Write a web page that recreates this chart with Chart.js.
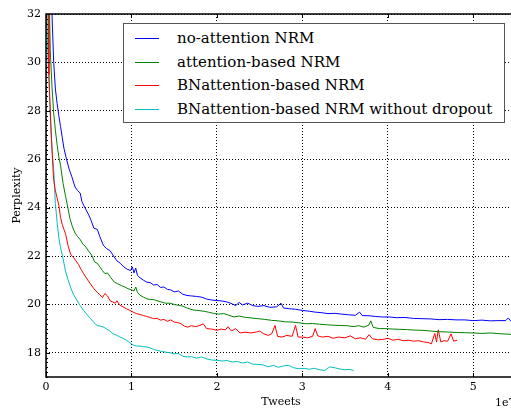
<!DOCTYPE html>
<html>
<head>
<meta charset="utf-8">
<script src="https://cdn.jsdelivr.net/npm/chart.js@4/dist/chart.umd.min.js"></script>
<style>
  html, body { margin: 0; padding: 0; background: #fff; overflow: hidden; width: 511px; height: 408px; }
  #wrap { position: relative; width: 517px; height: 408px; }
  #legend { position: absolute; left: 123px; top: 23px; width: 380px; height: 98px;
            border: 1.5px solid #555; background: #fff; font-family: "DejaVu Serif", serif; color: #000; }
  .row { position: absolute; left: 0; height: 20px; }
  .swatch { position: absolute; left: 11px; width: 24px; height: 0; border-top: 1.2px solid; }
  .lbl { position: absolute; left: 53px; white-space: nowrap; line-height: 20px; }
</style>
</head>
<body>
<div id="wrap">
  <canvas id="c" width="517" height="408"></canvas>
  <div id="legend"></div>
</div>
<script>
// ---------------- data (x in units of 1e7 tweets) ----------------
const seriesLabels = [
  "no-attention NRM",
  "attention-based NRM",
  "BNattention-based NRM",
  "BNattention-based NRM without dropout"
];
const seriesColors = ["#0000ff", "#008000", "#ff0000", "#00bfbf"];

const noAttX = [0.03,0.06,0.07,0.09,0.11,0.13,0.15,0.17,0.19,0.21,0.24,0.27,0.30,0.34,0.37,0.40,0.42,0.44,0.47,0.50,0.53,0.56,0.60,0.63,0.67,0.71,0.75,0.79,0.83,0.87,0.91,0.95,0.99,1.01,1.03,1.05,1.07,1.10,1.14,1.18,1.22,1.26,1.30,1.34,1.38,1.42,1.46,1.50,1.55,1.60,1.65,1.70,1.76,1.82,1.88,1.94,2.00,2.06,2.12,2.18,2.22,2.26,2.30,2.36,2.42,2.48,2.55,2.62,2.70,2.75,2.78,2.85,2.92,3.00,3.08,3.15,3.22,3.30,3.38,3.46,3.54,3.62,3.67,3.70,3.78,3.86,3.94,4.02,4.10,4.20,4.30,4.40,4.50,4.60,4.70,4.80,4.90,5.00,5.10,5.20,5.30,5.38,5.41,5.45,5.50];
const noAttY = [35,32.6,32.0,30.0,28.9,28.3,27.8,27.35,26.9,26.45,26.0,25.6,25.3,24.85,24.7,24.6,24.25,24.1,23.9,23.7,23.45,23.15,23.1,22.8,22.45,22.3,22.22,22.0,21.8,21.7,21.55,21.45,21.4,21.55,21.3,21.5,21.2,21.1,21.0,20.92,20.9,20.8,20.82,20.7,20.72,20.62,20.6,20.52,20.55,20.42,20.37,20.35,20.33,20.3,20.22,20.18,20.16,20.14,20.1,20.02,19.95,20.08,19.98,20.05,19.95,19.92,19.95,19.88,19.9,20.05,19.85,19.82,19.8,19.75,19.72,19.68,19.66,19.62,19.63,19.6,19.57,19.55,19.68,19.54,19.53,19.5,19.48,19.48,19.45,19.46,19.42,19.41,19.4,19.37,19.38,19.36,19.36,19.33,19.35,19.32,19.33,19.33,19.44,19.27,19.25];

const attX = [0.02,0.04,0.05,0.07,0.09,0.11,0.13,0.15,0.17,0.20,0.23,0.25,0.28,0.31,0.34,0.37,0.40,0.43,0.46,0.50,0.54,0.57,0.60,0.63,0.66,0.69,0.72,0.76,0.80,0.84,0.88,0.92,0.96,1.00,1.03,1.05,1.07,1.10,1.14,1.18,1.22,1.26,1.30,1.35,1.40,1.45,1.50,1.55,1.60,1.65,1.72,1.78,1.84,1.90,1.96,2.02,2.08,2.14,2.20,2.26,2.32,2.40,2.48,2.56,2.64,2.72,2.80,2.88,2.96,3.04,3.12,3.20,3.28,3.36,3.44,3.52,3.60,3.66,3.72,3.78,3.80,3.83,3.90,3.98,4.06,4.14,4.22,4.30,4.40,4.50,4.60,4.70,4.80,4.90,5.00,5.10,5.20,5.30,5.40,5.50];
const attY = [35,32.3,30.5,29.0,27.9,27.2,26.6,26.1,25.75,25.0,24.45,24.1,23.55,23.2,22.95,22.8,22.68,22.5,22.4,22.2,22.0,21.75,21.7,21.55,21.4,21.27,21.3,21.1,20.92,20.85,20.78,20.72,20.65,20.6,20.56,20.72,20.5,20.38,20.3,20.23,20.2,20.2,20.15,20.1,20.05,20.05,20.0,19.96,19.93,19.85,19.77,19.75,19.72,19.68,19.63,19.6,19.62,19.55,19.48,19.52,19.47,19.44,19.41,19.38,19.34,19.32,19.28,19.27,19.24,19.2,19.21,19.18,19.16,19.14,19.13,19.12,19.08,19.12,19.06,19.15,19.32,19.05,19.0,19.0,18.98,18.97,18.96,18.94,18.93,18.9,18.87,18.86,18.84,18.83,18.82,18.8,18.82,18.79,18.77,18.75];

const bnX = [0.015,0.025,0.035,0.05,0.065,0.08,0.09,0.11,0.13,0.15,0.17,0.19,0.21,0.23,0.26,0.29,0.32,0.35,0.38,0.41,0.44,0.48,0.52,0.56,0.60,0.63,0.66,0.69,0.72,0.75,0.78,0.81,0.83,0.86,0.90,0.94,0.98,1.02,1.06,1.10,1.14,1.18,1.22,1.26,1.30,1.34,1.38,1.42,1.46,1.50,1.54,1.58,1.62,1.66,1.70,1.75,1.80,1.84,1.88,1.94,2.00,2.05,2.10,2.13,2.17,2.22,2.27,2.33,2.40,2.46,2.50,2.55,2.60,2.64,2.68,2.71,2.76,2.82,2.88,2.92,2.95,3.00,3.06,3.12,3.15,3.18,3.23,3.30,3.36,3.42,3.50,3.56,3.62,3.68,3.74,3.78,3.82,3.88,3.94,4.00,4.06,4.12,4.18,4.24,4.30,4.36,4.42,4.48,4.51,4.55,4.57,4.59,4.62,4.66,4.70,4.74,4.77,4.81];
const bnY = [35,32.0,29.5,28.0,26.8,25.7,25.15,24.7,24.4,24.1,23.6,23.3,23.1,22.9,22.4,22.05,21.95,21.8,21.65,21.45,21.27,21.05,20.85,20.65,20.5,20.4,20.28,20.45,20.35,20.15,20.1,20.05,20.15,19.98,19.9,19.82,19.76,19.68,19.62,19.58,19.54,19.5,19.46,19.41,19.42,19.35,19.38,19.3,19.36,19.27,19.25,19.2,19.1,19.06,19.12,19.08,19.13,19.2,19.0,18.98,18.93,18.98,18.95,19.08,18.9,19.0,18.82,18.85,18.82,18.86,18.9,18.78,18.72,18.78,19.13,18.68,18.65,18.72,18.68,19.13,18.65,18.65,18.62,18.68,19.0,18.7,18.65,18.68,18.6,18.65,18.62,18.7,18.58,18.62,18.56,18.75,18.58,18.54,18.55,18.6,18.52,18.56,18.5,18.52,18.48,18.5,18.45,18.42,18.37,18.8,18.45,18.95,18.45,18.5,18.48,18.78,18.48,18.52];

const bnNoDropX = [0.005,0.012,0.025,0.04,0.06,0.075,0.09,0.10,0.11,0.13,0.15,0.17,0.19,0.21,0.23,0.26,0.29,0.32,0.36,0.40,0.44,0.48,0.52,0.56,0.60,0.64,0.68,0.71,0.74,0.78,0.82,0.86,0.90,0.94,0.98,1.02,1.06,1.10,1.14,1.18,1.22,1.26,1.30,1.35,1.40,1.45,1.50,1.55,1.60,1.65,1.70,1.76,1.82,1.88,1.94,2.00,2.06,2.12,2.18,2.24,2.30,2.36,2.42,2.48,2.54,2.60,2.66,2.72,2.78,2.84,2.90,2.96,3.02,3.08,3.14,3.20,3.26,3.32,3.38,3.44,3.50,3.56,3.60];
const bnNoDropY = [33,31.4,30.0,28.7,27.0,26.2,25.6,24.8,24.16,23.4,22.75,22.35,22.05,21.7,21.35,21.0,20.68,20.42,20.18,19.95,19.75,19.58,19.42,19.25,19.12,19.1,19.05,18.98,18.92,18.8,18.74,18.66,18.6,18.52,18.42,18.32,18.28,18.28,18.25,18.24,18.2,18.14,18.1,18.06,18.03,18.0,17.96,17.97,17.86,17.83,17.84,17.78,17.83,17.75,17.7,17.69,17.66,17.68,17.62,17.64,17.58,17.62,17.53,17.52,17.5,17.42,17.48,17.4,17.46,17.48,17.38,17.34,17.36,17.32,17.36,17.3,17.27,17.42,17.38,17.33,17.3,17.31,17.27];

const xTickValues = [0, 1, 2, 3, 4, 5];
const yTickValues = [18, 20, 22, 24, 26, 28, 30, 32];
const xRange = [0, 5.5];
const yRange = [17, 32];
const xAxisTitle = "Tweets";
const yAxisTitle = "Perplexity";
const xOffsetText = "1e7";

// ---------------- build chart ----------------
const zip = (xs, ys) => xs.map((x, i) => ({ x: x, y: ys[i] }));
const seriesData = [zip(noAttX, noAttY), zip(attX, attY), zip(bnX, bnY), zip(bnNoDropX, bnNoDropY)];
const SERIF = '"DejaVu Serif", serif';

const framePlugin = {
  id: 'frame',
  afterDatasetsDraw(chart) {
    const { ctx, chartArea: a, scales } = chart;
    const xs = scales.x, ys = scales.y;
    ctx.save();
    ctx.strokeStyle = '#000';
    ctx.lineWidth = 1;
    ctx.beginPath();
    yTickValues.forEach(v => {
      const p = Math.round(ys.getPixelForValue(v)) + 0.5;
      ctx.moveTo(a.left, p); ctx.lineTo(a.left + 4, p);
      ctx.moveTo(a.right, p); ctx.lineTo(a.right - 4, p);
    });
    xTickValues.forEach(v => {
      const p = Math.round(xs.getPixelForValue(v)) + 0.5;
      ctx.moveTo(p, a.bottom); ctx.lineTo(p, a.bottom - 4);
      ctx.moveTo(p, a.top); ctx.lineTo(p, a.top + 4);
    });
    for (let v = yRange[0]; v <= yRange[1] + 1e-9; v += 0.2) {
      const p = Math.round(ys.getPixelForValue(v)) + 0.5;
      ctx.moveTo(a.left, p); ctx.lineTo(a.left + 2, p);
    }
    ctx.stroke();
    ctx.lineWidth = 1.5;
    ctx.strokeRect(a.left, a.top, a.right - a.left, a.bottom - a.top);
    ctx.fillStyle = '#000';
    ctx.font = '11px ' + SERIF;
    ctx.textAlign = 'left';
    ctx.textBaseline = 'middle';
    ctx.fillText(xOffsetText, 495, 403);
    ctx.restore();
  }
};

const chart = new Chart(document.getElementById('c'), {
  type: 'line',
  data: {
    datasets: seriesLabels.map((lab, i) => ({
      label: lab,
      data: seriesData[i],
      borderColor: seriesColors[i],
      backgroundColor: seriesColors[i],
      borderWidth: 1,
      pointRadius: 0,
      tension: 0,
      fill: false
    }))
  },
  options: {
    responsive: false,
    animation: false,
    events: [],
    layout: { padding: { left: 0, right: 1, top: 14, bottom: 0 } },
    plugins: { legend: { display: false }, tooltip: { enabled: false } },
    scales: {
      x: {
        type: 'linear', min: xRange[0], max: xRange[1],
        afterBuildTicks: s => { s.ticks = xTickValues.map(v => ({ value: v })); },
        afterFit: s => { s.height = 31; },
        grid: { color: '#000', lineWidth: 1, drawTicks: false },
        border: { display: false, dash: [1, 2] },
        ticks: { color: '#000', padding: 4, maxRotation: 0, font: { family: SERIF, size: 11 }, callback: v => String(v) },
        title: { display: true, text: xAxisTitle, color: '#000', padding: { top: 0, bottom: 0 }, font: { family: SERIF, size: 11, lineHeight: 1 } }
      },
      y: {
        type: 'linear', min: yRange[0], max: yRange[1],
        afterBuildTicks: s => { s.ticks = yTickValues.map(v => ({ value: v })); },
        afterFit: s => { s.width = 46; },
        grid: { color: '#000', lineWidth: 1, drawTicks: false },
        border: { display: false, dash: [1, 2] },
        ticks: { color: '#000', padding: 5, font: { family: SERIF, size: 11 }, callback: v => String(v) },
        title: { display: true, text: yAxisTitle, color: '#000', padding: { top: 11, bottom: 0 }, font: { family: SERIF, size: 11, lineHeight: 1.2 } }
      }
    }
  },
  plugins: [framePlugin]
});

// ---------------- legend (HTML, built from datasets) ----------------
(function buildLegend() {
  const leg = document.getElementById('legend');
  const mc = document.createElement('canvas').getContext('2d');
  mc.font = '14px ' + SERIF;
  const longest = Math.max(...seriesLabels.map(t => mc.measureText(t).width));
  const fs = Math.min(15, 14 * 320 / longest);
  const rowCenters = [14, 38, 61, 85];
  chart.data.datasets.forEach((ds, i) => {
    const row = document.createElement('div');
    row.className = 'row';
    row.style.top = (rowCenters[i] - 10) + 'px';
    const sw = document.createElement('div');
    sw.className = 'swatch';
    sw.style.top = '10px';
    sw.style.borderTopColor = ds.borderColor;
    const lb = document.createElement('span');
    lb.className = 'lbl';
    lb.style.fontSize = fs.toFixed(2) + 'px';
    lb.textContent = ds.label;
    row.appendChild(sw); row.appendChild(lb);
    leg.appendChild(row);
  });
})();
</script>
</body>
</html>
